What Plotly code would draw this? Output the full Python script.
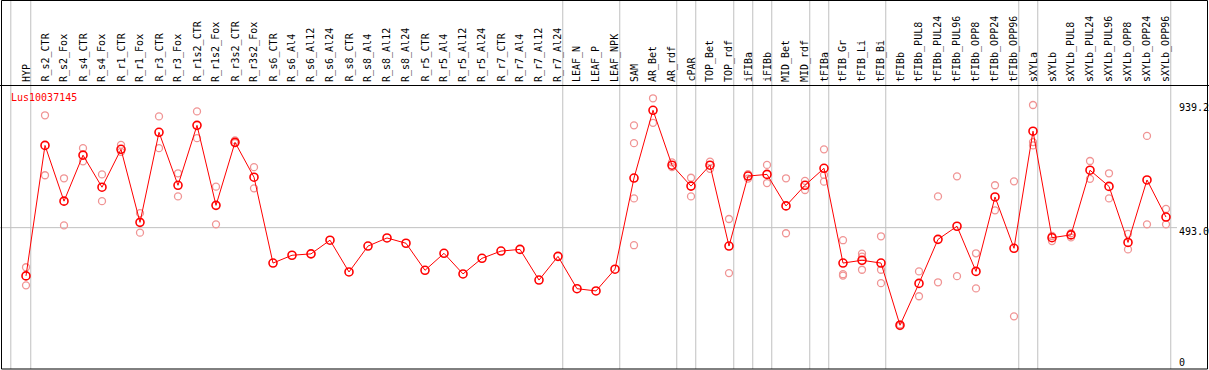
import plotly.graph_objects as go

categories = ["HYP", "R_s2_CTR", "R_s2_Fox", "R_s4_CTR", "R_s4_Fox", "R_r1_CTR", "R_r1_Fox",
              "R_r3_CTR", "R_r3_Fox", "R_r1s2_CTR", "R_r1s2_Fox", "R_r3s2_CTR", "R_r3s2_Fox",
              "R_s6_CTR", "R_s6_Al4", "R_s6_Al12", "R_s6_Al24", "R_s8_CTR", "R_s8_Al4", "R_s8_Al12",
              "R_s8_Al24", "R_r5_CTR", "R_r5_Al4", "R_r5_Al12", "R_r5_Al24", "R_r7_CTR", "R_r7_Al4",
              "R_r7_Al12", "R_r7_Al24", "LEAF_N", "LEAF_P", "LEAF_NPK", "SAM", "AR_Bet", "AR_rdf",
              "cPAR", "TOP_Bet", "TOP_rdf", "iFIBa", "iFIBb", "MID_Bet", "MID_rdf", "tFIBa",
              "tFIB_Gr", "tFIB_Li", "tFIB_Bi", "tFIBb", "tFIBb_PUL8", "tFIBb_PUL24", "tFIBb_PUL96",
              "tFIBb_OPP8", "tFIBb_OPP24", "tFIBb_OPP96", "sXYLa", "sXYLb", "sXYLb_PUL8",
              "sXYLb_PUL24", "sXYLb_PUL96", "sXYLb_OPP8", "sXYLb_OPP24", "sXYLb_OPP96"]

means = [320, 788, 588, 753, 638, 774, 512, 835, 645, 860, 573, 799, 674,
         366, 394, 399, 448, 334, 427, 456, 437, 340, 401, 327, 383, 409, 415, 305, 390,
         274, 266, 344, 671, 914, 717, 642, 717, 427, 678, 684, 571, 645, 706,
         366, 376, 366, 143, 293, 451, 498, 336, 603, 419, 839, 457, 467, 699, 641,
         440, 664, 531]

replicates = [
    [351, 286], [896, 681], [670, 501], [778, 731], [684, 588], [790, 765], [545, 475],
    [892, 778], [688, 605], [910, 814], [640, 505], [806, 796], [710, 634],
    [], [], [], [], [], [], [], [], [], [], [], [], [], [], [], [],
    [], [], [],
    [860, 796, 598, 430], [957, 869], [727, 710], [672, 605], [730, 704], [524, 330],
    [685, 669], [718, 653], [670, 473], [661, 628], [774, 682, 658],
    [448, 326, 321], [400, 389, 342], [462, 342, 294], [146, 140], [336, 247], [605, 297],
    [677, 319], [401, 275], [645, 555], [659, 175], [933, 800, 788], [463, 445], [473, 458],
    [732, 668], [688, 598], [471, 415], [822, 505], [560, 505],
]

title = "Lus10037145"
ref_values = [939.2, 493.0, 0]
ref_labels = ["939.2", "493.0", "0"]
group_lines = [-0.8, 0.25, 28.25, 31.25, 34.25, 35.25, 37.25, 38.25, 39.25, 41.25, 42.25,
               45.25, 52.25, 53.25, 60.25]

W, H = 1209, 370
X0, DX = 26.0, 19.0          # pixel of first category, pixel step
Y0, KY = 365.1, 0.2788       # pixel of value 0, pixels per unit

xr = [-X0 / DX, (W - X0) / DX]
yr = [(Y0 - H) / KY, Y0 / KY]

def py(p):
    return 1 - p / H

def px(p):
    return p / W

xs = list(range(len(categories)))
rx, ry = [], []
for i, reps in enumerate(replicates):
    for v in reps:
        rx.append(i)
        ry.append(v)

fig = go.Figure()
fig.add_trace(go.Scatter(x=rx, y=ry, mode="markers", hoverinfo="skip",
                         marker=dict(symbol="circle-open", size=7, color="#f09494",
                                     line=dict(width=1.3, color="#f09494"))))
fig.add_trace(go.Scatter(x=xs, y=means, mode="lines+markers", hoverinfo="skip",
                         line=dict(color="#ff0000", width=1),
                         marker=dict(symbol="circle-open", size=8, color="#ff0000",
                                     line=dict(width=1.6, color="#ff0000"))))

shapes = []
for g in group_lines:
    shapes.append(dict(type="line", xref="x", yref="paper", x0=g, x1=g, y0=py(369), y1=1,
                       line=dict(color="#c0c0c0", width=1), layer="below"))
shapes.append(dict(type="line", xref="paper", yref="y", x0=0, x1=px(1177),
                   y0=ref_values[1], y1=ref_values[1],
                   line=dict(color="#c0c0c0", width=1), layer="below"))
shapes.append(dict(type="line", xref="paper", yref="paper", x0=0, x1=1, y0=py(85.5), y1=py(85.5),
                   line=dict(color="#000000", width=1)))
shapes.append(dict(type="rect", xref="paper", yref="paper", x0=px(1.5), x1=px(1207.5),
                   y0=py(369), y1=py(0.5), line=dict(color="#000000", width=1)))

mono = "DejaVu Sans Mono"
annotations = []
for i, c in enumerate(categories):
    annotations.append(dict(x=i, y=py(84), xref="x", yref="paper", text=c, textangle=-90,
                            showarrow=False, xanchor="center", yanchor="bottom",
                            font=dict(family=mono, size=10, color="#000000")))
annotations.append(dict(x=px(9), y=py(97), xref="paper", yref="paper", text=title,
                        showarrow=False, xanchor="left", yanchor="middle",
                        font=dict(family=mono, size=10, color="#ff0000")))
for v, t in zip(ref_values, ref_labels):
    annotations.append(dict(x=px(1177), y=v, xref="paper", yref="y", text=t, showarrow=False,
                            xanchor="left", yanchor="middle", yshift=(3 if v == 0 else -4),
                            font=dict(family=mono, size=10, color="#000000")))

fig.update_layout(
    width=W, height=H, margin=dict(l=0, r=0, t=0, b=0, pad=0),
    paper_bgcolor="white", plot_bgcolor="white", showlegend=False,
    xaxis=dict(range=xr, visible=False, fixedrange=True),
    yaxis=dict(range=yr, visible=False, fixedrange=True),
    shapes=shapes, annotations=annotations,
)

fig.write_html("out.html", config={"displayModeBar": False, "staticPlot": True},
               post_script="document.body.style.margin='0';document.body.style.overflow='hidden';")
